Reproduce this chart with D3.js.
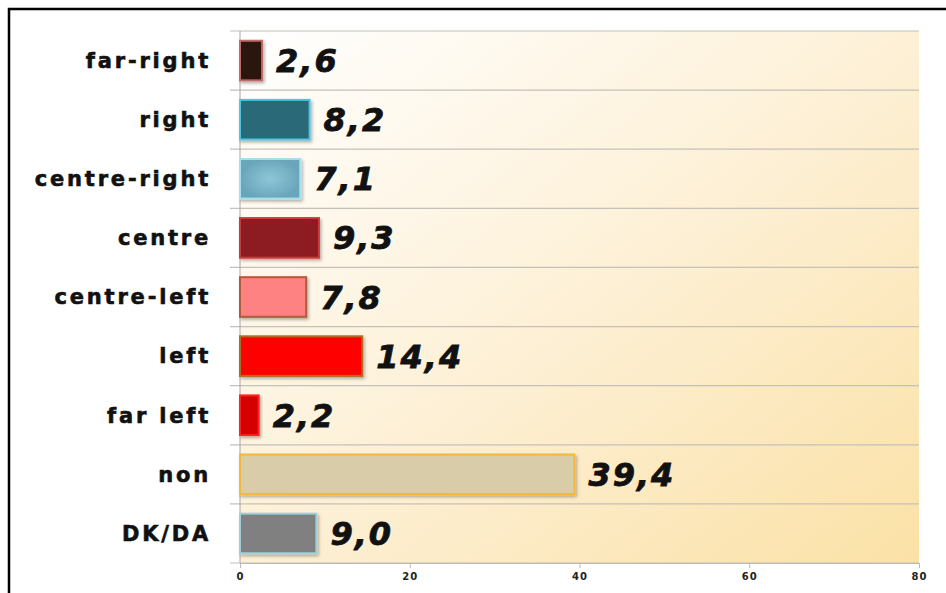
<!DOCTYPE html>
<html>
<head>
<meta charset="utf-8">
<script src="https://cdn.jsdelivr.net/npm/d3@7"></script>
<style>
	body{margin:0;background:#fff;}
	svg{display:block;}
	.cat{font-family:"DejaVu Sans",sans-serif;font-weight:bold;font-size:21px;letter-spacing:2.8px;fill:#111;stroke:#111;stroke-width:0.6px;}
	.val{font-family:"DejaVu Sans",sans-serif;font-weight:bold;font-style:italic;font-size:32px;letter-spacing:2px;fill:#111;stroke:#111;stroke-width:0.8px;}
	.axis-x text{font-family:"DejaVu Sans",sans-serif;font-weight:bold;font-size:10px;letter-spacing:1px;fill:#222;}
</style>
</head>
<body>
<div id="chart"></div>
<script>
//data, top to bottom
const categories = ['far-right','right','centre-right','centre','centre-left','left','far left','non','DK/DA'];
const values = [2.6, 8.2, 7.1, 9.3, 7.8, 14.4, 2.2, 39.4, 9.0];
const valueLabels = ['2,6','8,2','7,1','9,3','7,8','14,4','2,2','39,4','9,0'];
const fills = ['#2b1510','#2c6977','#7cb5c9','#8c1d21','#ff8282','#ff0000','#d40000','#d9cca9','#808080'];
const strokes = ['#c06a6a','#4fc6df','#a6e0f0','#c83a3a','#b05a3a','#b06a20','#ff2020','#f2b83a','#9fd0d8'];
const ticksX = [0,20,40,60,80];

const width = 946, height = 593;
const margin = {t:31,r:27,b:30,l:240};
const w = width - margin.l - margin.r;
const h = height - margin.t - margin.b;

const data = categories.map((c,i) => ({cat:c, value:values[i], label:valueLabels[i], fill:fills[i], stroke:strokes[i]}));

const svg = d3.select('#chart').append('svg')
	.attr('width',width)
	.attr('height',height);

const defs = svg.append('defs');
const bg = defs.append('linearGradient')
	.attr('id','bg')
	.attr('x1','0').attr('y1','0').attr('x2','1').attr('y2','1');
bg.append('stop').attr('offset','0').attr('stop-color','#ffffff');
bg.append('stop').attr('offset','0.5').attr('stop-color','#fdf0d6');
bg.append('stop').attr('offset','1').attr('stop-color','#fbe1a6');

const glow = defs.append('radialGradient').attr('id','glow');
glow.append('stop').attr('offset','0').attr('stop-color','#8ec6d8');
glow.append('stop').attr('offset','1').attr('stop-color','#6aa6bb');

const shadow = defs.append('filter').attr('id','shadow')
	.attr('x','-10%').attr('y','-20%').attr('width','130%').attr('height','150%');
shadow.append('feDropShadow')
	.attr('dx',1.5).attr('dy',2).attr('stdDeviation',1.5)
	.attr('flood-color','#000').attr('flood-opacity',0.3);

//frame
svg.append('rect')
	.attr('x',9).attr('y',9)
	.attr('width',width).attr('height',height)
	.attr('fill','none')
	.attr('stroke','#000')
	.attr('stroke-width',2.5);

const plot = svg.append('g')
	.attr('transform',`translate(${margin.l},${margin.t})`);

//scales
const scaleX = d3.scaleLinear().domain([0,80]).range([0,w]);
const scaleY = d3.scaleBand().domain(categories).range([0,h]).paddingInner(0.33).paddingOuter(0.165);

plot.append('rect')
	.attr('width',w).attr('height',h)
	.attr('fill','url(#bg)');

//gridlines at band boundaries
const step = scaleY.step();
const bounds = d3.range(categories.length+1).map(i => i*step);
plot.selectAll('.grid')
	.data(bounds)
	.enter()
	.append('line')
	.attr('class','grid')
	.attr('x1',-10).attr('x2',w)
	.attr('y1',d => d).attr('y2',d => d)
	.attr('stroke','#c4c0ba')
	.attr('stroke-width',1.2);

plot.append('line')
	.attr('x1',0).attr('x2',0)
	.attr('y1',0).attr('y2',h)
	.attr('stroke','#a8a6a2');

//bars
plot.selectAll('.bar')
	.data(data)
	.enter()
	.append('rect')
	.attr('class','bar')
	.attr('x',0)
	.attr('y',d => scaleY(d.cat))
	.attr('width',d => scaleX(d.value))
	.attr('height',scaleY.bandwidth())
	.attr('fill',d => d.cat === 'centre-right' ? 'url(#glow)' : d.fill)
	.attr('stroke',d => d.stroke)
	.attr('stroke-width',2)
	.attr('filter','url(#shadow)');

//value labels
plot.selectAll('.val')
	.data(data)
	.enter()
	.append('text')
	.attr('class','val')
	.attr('x',d => scaleX(d.value) + 14)
	.attr('y',d => scaleY(d.cat) + scaleY.bandwidth()/2)
	.attr('dy','0.36em')
	.text(d => d.label);

//category labels
plot.selectAll('.cat')
	.data(data)
	.enter()
	.append('text')
	.attr('class','cat')
	.attr('x',-29)
	.attr('y',d => scaleY(d.cat) + scaleY.bandwidth()/2)
	.attr('dy','0.35em')
	.attr('text-anchor','end')
	.text(d => d.cat);

//x axis
const axisX = d3.axisBottom()
	.scale(scaleX)
	.tickValues(ticksX)
	.tickSize(5)
	.tickPadding(5);

const axisXNode = plot.append('g')
	.attr('class','axis axis-x')
	.attr('transform',`translate(0,${h})`)
	.call(axisX);
axisXNode.select('.domain').attr('stroke','#bdbab5');
axisXNode.selectAll('.tick line').attr('stroke','#bdbab5');
</script>
</body>
</html>
